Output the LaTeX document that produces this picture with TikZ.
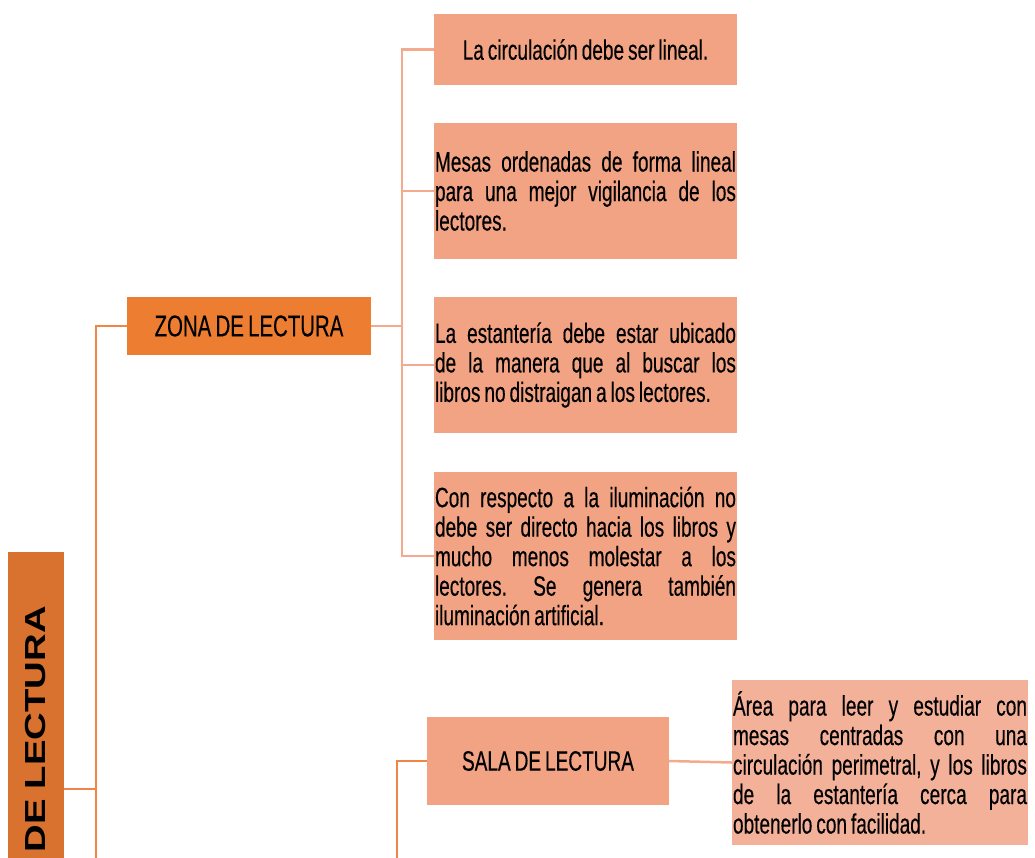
\documentclass[tikz,border=0pt]{standalone}
\usepackage{fontspec}
\setmainfont[FakeStretch=0.68,FakeBold=0.3,WordSpace=0.75]{Liberation Sans}
\newfontfamily\widefont[FakeStretch=1.32]{Liberation Sans}
\frenchspacing
\definecolor{areaorange}{HTML}{D9722E}
\definecolor{zonaorange}{HTML}{ED7D31}
\definecolor{itemsalmon}{HTML}{F2A383}
\definecolor{notesalmon}{HTML}{F4B19A}
\definecolor{linkorange}{HTML}{EF8547}
\definecolor{linksalmon}{HTML}{F4AA8C}

\begin{document}
\begin{tikzpicture}[x=1pt,y=-1pt,
    link/.style={draw=linkorange,line width=2.5pt},
    sublink/.style={draw=linksalmon,line width=2.5pt},
    item/.style={fill=itemsalmon,text width=301pt,inner sep=1pt,minimum width=303pt,align=justify,font=\fontsize{28}{29.5}\selectfont}]
    \useasboundingbox (0,0) rectangle (1035,857);
    % main branch
    \node[rotate=90,fill=areaorange,minimum width=310pt,minimum height=56pt,text width=290pt,inner xsep=10pt,align=left,font=\widefont\bfseries\fontsize{29}{30}\selectfont](area)at(36,707){DE LECTURA};
    \node[fill=zonaorange,minimum width=244pt,minimum height=58pt,inner sep=0pt,font=\fontsize{30}{30}\selectfont](zona)at(249,326){ZONA DE LECTURA};
    \node[fill=itemsalmon,minimum width=242pt,minimum height=88pt,inner sep=0pt,font=\fontsize{28}{29.5}\selectfont](sala)at(548,761){SALA DE LECTURA};
    % zona de lectura
    \node[fill=itemsalmon,minimum width=303pt,minimum height=71pt,inner sep=0pt,font=\fontsize{28}{29.5}\selectfont](b1)at(585.5,49.5){La circulación debe ser lineal.};
    \node[item,minimum height=136pt](b2)at(585.5,191){Mesas ordenadas de forma lineal\linebreak para una mejor vigilancia de los\linebreak lectores.};
    \node[item,minimum height=136pt](b3)at(585.5,365){La estantería debe estar ubicado\linebreak de la manera que al buscar los\linebreak libros no distraigan a los lectores.};
    \node[item,minimum height=168pt](b4)at(585.5,556){Con respecto a la iluminación no\linebreak debe ser directo hacia los libros y\linebreak mucho menos molestar a los\linebreak lectores. Se genera también\linebreak iluminación artificial.};
    % sala de lectura
    \node[item,fill=notesalmon,text width=294pt,minimum width=296pt,minimum height=165pt](nota)at(880,762.5){Área para leer y estudiar con\linebreak mesas centradas con una\linebreak circulación perimetral, y los libros\linebreak de la estantería cerca para\linebreak obtenerlo con facilidad.};
    % connectors
    \coordinate(lbot)at(96,870);
    \coordinate(ajoin)at(96,789);
    \draw[link](zona.west)-|(lbot);
    \draw[link](ajoin)--(ajoin-|area.south);
    \draw[sublink](zona.east)--++(31,0);
    \draw[sublink](b1.west)--++(-32,0)|-(b4.west);
    \foreach \b in {b2,b3}
        \draw[sublink](\b.west)--++(-32,0);
    \draw[link](sala.west)--++(-30,0)--++(0,110);
    \draw[sublink](sala.east)--(nota.west);
\end{tikzpicture}
\end{document}
